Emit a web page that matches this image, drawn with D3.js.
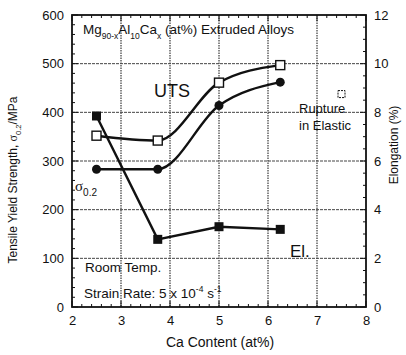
<!DOCTYPE html>
<html>
<head>
<meta charset="utf-8">
<script src="https://cdn.jsdelivr.net/npm/d3@7"></script>
<style>
body { margin: 0; background: #fff; }
svg text { font-family: "Liberation Sans", Arial, sans-serif; fill: #111; }
</style>
</head>
<body>
<svg id="chart" width="406" height="355"></svg>
<script>
// Ca content (at%)
var caContent = [2.5, 3.75, 5, 6.25];
// left axis, MPa
var utsValues = [352, 342, 461, 497];
var yieldValues = [283, 283, 414, 462];
// right axis, %
var elongValues = [7.85, 2.78, 3.3, 3.19];
// "rupture in elastic" marker
var ruptureX = [7.5];
var ruptureY = [8.75];

var xTicks = [2, 3, 4, 5, 6, 7, 8];
var yTicks = [0, 100, 200, 300, 400, 500, 600];
var y2Ticks = [0, 2, 4, 6, 8, 10, 12];

var svg = d3.select("#chart");
// plot box (note: "top" is taken by window.top)
var pLeft = 72, pRight = 366, pTop = 15, pBottom = 307;

var x = d3.scaleLinear().domain([2, 8]).range([pLeft, pRight]);
var y = d3.scaleLinear().domain([0, 600]).range([pBottom, pTop]);
var y2 = d3.scaleLinear().domain([0, 12]).range([pBottom, pTop]);

// grid
var grid = svg.append("g");
grid.selectAll("line.gx").data(xTicks.slice(1, -1)).enter().append("line")
	.attr("x1", d => x(d)).attr("x2", d => x(d))
	.attr("y1", pTop).attr("y2", pBottom)
	.attr("stroke", "#111").attr("stroke-width", 1).attr("stroke-dasharray", "1.5,1");
grid.selectAll("line.gy").data(yTicks.slice(1, -1)).enter().append("line")
	.attr("x1", pLeft).attr("x2", pRight)
	.attr("y1", d => y(d)).attr("y2", d => y(d))
	.attr("stroke", "#444").attr("stroke-width", 1).attr("stroke-dasharray", "3,1");

// axes
function styleAxis(g) {
	g.select(".domain").remove();
	g.selectAll("text").style("font-size", "13px");
	g.selectAll("line").attr("stroke", "#111");
}
var xAxis = svg.append("g").attr("transform", "translate(0," + pBottom + ")")
	.call(d3.axisBottom(x).tickValues(xTicks).tickSize(0).tickPadding(9).tickFormat(d3.format("d")));
styleAxis(xAxis);
var yAxis = svg.append("g").attr("transform", "translate(" + pLeft + ",0)")
	.call(d3.axisLeft(y).tickValues(yTicks).tickSize(0).tickPadding(8));
styleAxis(yAxis);
var y2Axis = svg.append("g").attr("transform", "translate(" + pRight + ",0)")
	.call(d3.axisRight(y2).tickValues(y2Ticks).tickSize(0).tickPadding(8));
styleAxis(y2Axis);

// minor ticks (inside)
var ticksG = svg.append("g").attr("stroke", "#111").attr("stroke-width", 1);
d3.range(2, 8.001, 0.2).forEach(function(v) {
	var major = Math.abs(v - Math.round(v)) < 1e-6;
	var len = major ? 6 : 3;
	ticksG.append("line").attr("x1", x(v)).attr("x2", x(v)).attr("y1", pBottom).attr("y2", pBottom - len);
	ticksG.append("line").attr("x1", x(v)).attr("x2", x(v)).attr("y1", pTop).attr("y2", pTop + len);
});
d3.range(0, 600.001, 20).forEach(function(v) {
	var len = v % 100 === 0 ? 6 : 3;
	ticksG.append("line").attr("x1", pLeft).attr("x2", pLeft + len).attr("y1", y(v)).attr("y2", y(v));
});
d3.range(0, 12.001, 0.5).forEach(function(v) {
	var len = v % 2 === 0 ? 6 : 3;
	ticksG.append("line").attr("x1", pRight).attr("x2", pRight - len).attr("y1", y2(v)).attr("y2", y2(v));
});

svg.append("rect").attr("x", pLeft).attr("y", pTop)
	.attr("width", pRight - pLeft).attr("height", pBottom - pTop)
	.attr("fill", "none").attr("stroke", "#111").attr("stroke-width", 1.8);

// series
var curve = d3.line().x(d => x(d[0])).y(d => y(d[1])).curve(d3.curveMonotoneX);
var utsPts = d3.zip(caContent, utsValues);
var yldPts = d3.zip(caContent, yieldValues);
var elPts = d3.zip(caContent, elongValues);

svg.append("path").attr("d", curve(utsPts)).attr("fill", "none").attr("stroke", "#111").attr("stroke-width", 2.4);
svg.append("path").attr("d", curve(yldPts)).attr("fill", "none").attr("stroke", "#111").attr("stroke-width", 2.4);
svg.append("path")
	.attr("d", d3.line().x(d => x(d[0])).y(d => y2(d[1]))(elPts))
	.attr("fill", "none").attr("stroke", "#111").attr("stroke-width", 2.4);

svg.selectAll("rect.uts").data(utsPts).enter().append("rect")
	.attr("x", d => x(d[0]) - 4.5).attr("y", d => y(d[1]) - 4.5)
	.attr("width", 9).attr("height", 9)
	.attr("fill", "#fff").attr("stroke", "#111").attr("stroke-width", 1.4);
svg.selectAll("circle.yld").data(yldPts).enter().append("circle")
	.attr("cx", d => x(d[0])).attr("cy", d => y(d[1])).attr("r", 4.5)
	.attr("fill", "#111");
svg.selectAll("rect.el").data(elPts).enter().append("rect")
	.attr("x", d => x(d[0]) - 4.5).attr("y", d => y2(d[1]) - 4.5)
	.attr("width", 9).attr("height", 9).attr("fill", "#111");

svg.selectAll("rect.rup").data(d3.zip(ruptureX, ruptureY)).enter().append("rect")
	.attr("x", d => x(d[0]) - 3.5).attr("y", d => y2(d[1]) - 3.5)
	.attr("width", 7).attr("height", 7)
	.attr("fill", "#fff").attr("stroke", "#111").attr("stroke-width", 1).attr("stroke-dasharray", "2,1");

// labels
var t = svg.append("text").attr("x", 83).attr("y", 34).style("font-size", "13.5px");
t.append("tspan").text("Mg");
t.append("tspan").attr("dy", 5).style("font-size", "8.5px").text("90-x");
t.append("tspan").attr("dy", -5).text("Al");
t.append("tspan").attr("dy", 5).style("font-size", "8.5px").text("10");
t.append("tspan").attr("dy", -5).text("Ca");
t.append("tspan").attr("dy", 5).style("font-size", "8.5px").text("x");
t.append("tspan").attr("dy", -5).text(" (at%) Extruded Alloys");

svg.append("text").attr("x", 154).attr("y", 97).style("font-size", "18px").text("UTS");
var s = svg.append("text").attr("x", 75).attr("y", 191).style("font-size", "15px");
s.append("tspan").style("font-family", "Liberation Serif, serif").text("σ");
s.append("tspan").attr("dy", 5).style("font-size", "10px").text("0.2");
svg.append("text").attr("x", 290).attr("y", 257).style("font-size", "17px").text("El.");
svg.append("text").attr("x", 299).attr("y", 113).style("font-size", "13px").text("Rupture");
svg.append("text").attr("x", 299).attr("y", 130).style("font-size", "13px").text("in Elastic");
svg.append("text").attr("x", 85).attr("y", 272).style("font-size", "13.5px").text("Room Temp.");
var sr = svg.append("text").attr("x", 84).attr("y", 298).style("font-size", "13.5px");
sr.append("tspan").text("Strain Rate: 5 x 10");
sr.append("tspan").attr("dy", -6).style("font-size", "8.5px").text("-4");
sr.append("tspan").attr("dy", 6).text(" s");
sr.append("tspan").attr("dy", -6).style("font-size", "8.5px").text("-1");

svg.append("text").attr("x", 220).attr("y", 347).attr("text-anchor", "middle")
	.style("font-size", "14px").text("Ca Content (at%)");

var yl = svg.append("text").attr("transform", "translate(17,180) rotate(-90)")
	.attr("text-anchor", "middle").style("font-size", "12px");
yl.append("tspan").text("Tensile Yield Strength, ");
yl.append("tspan").style("font-family", "Liberation Serif, serif").text("σ");
yl.append("tspan").attr("dy", 4).style("font-size", "7.5px").text("0.2");
yl.append("tspan").attr("dy", -4).text("/MPa");

svg.append("text").attr("transform", "translate(398,145) rotate(-90)")
	.attr("text-anchor", "middle").style("font-size", "12px").text("Elongation (%)");
</script>
</body>
</html>
